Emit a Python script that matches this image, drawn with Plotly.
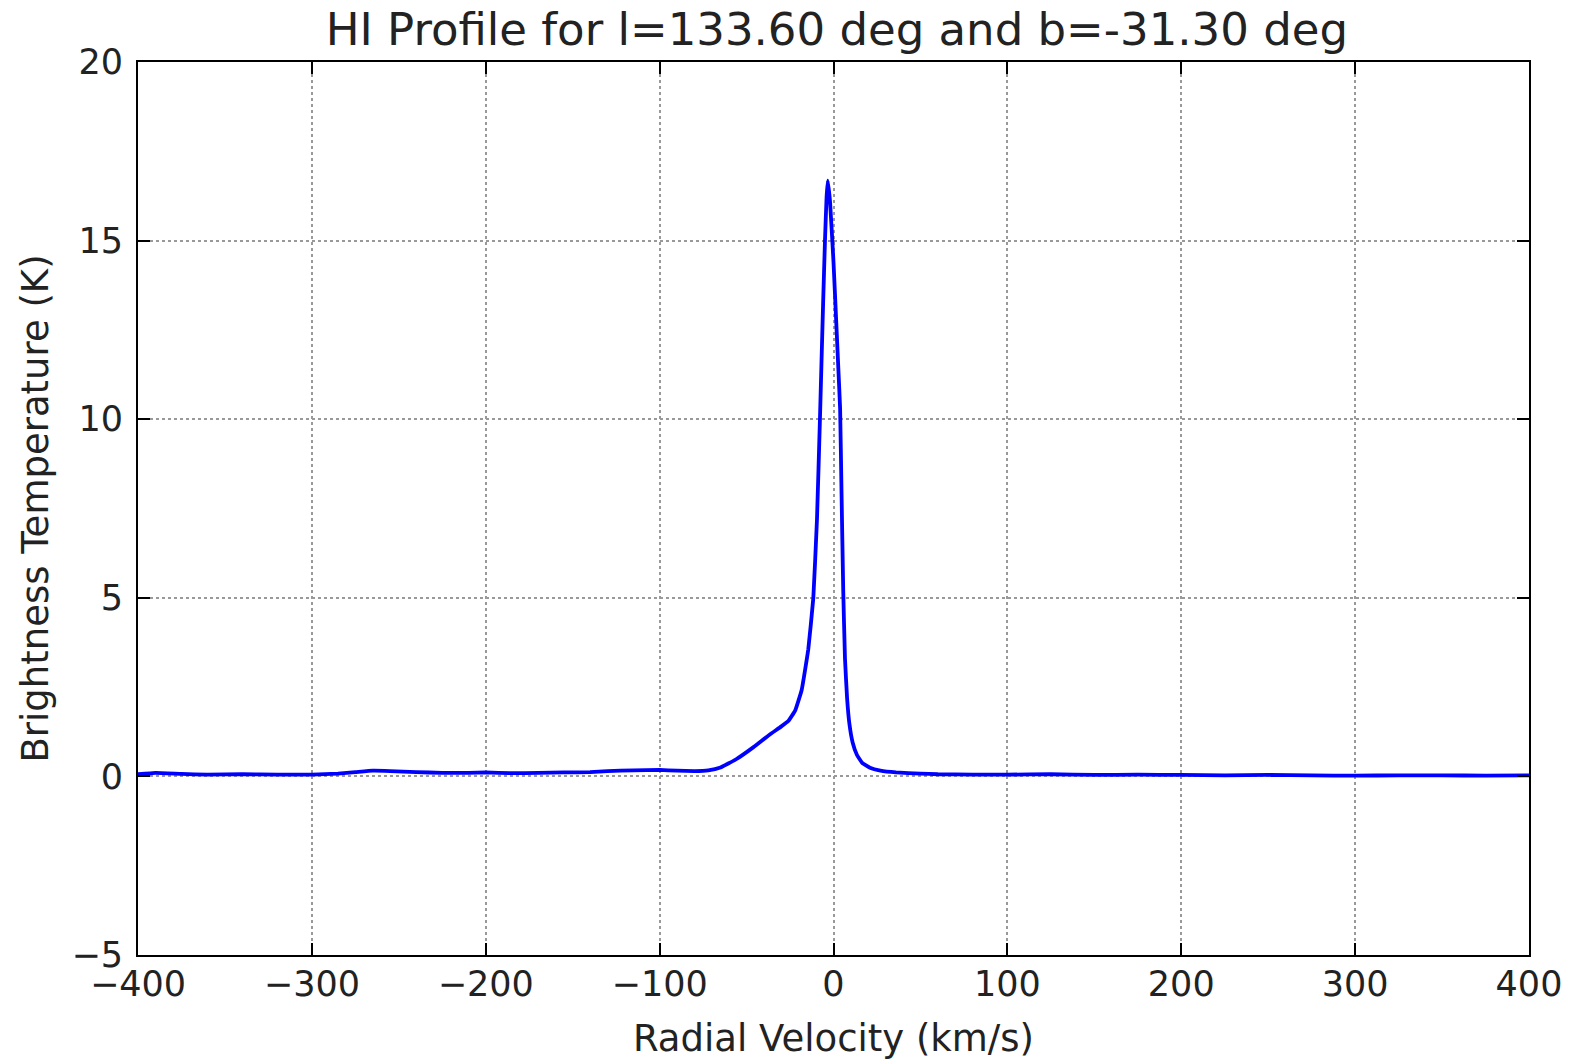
import plotly.graph_objects as go

# Radial velocity (km/s) and brightness temperature (K)
velocity = [-400, -390, -375, -360, -340, -320, -300, -285, -275, -265, -255, -240,
            -225, -210, -200, -185, -170, -155, -140, -130, -115, -100, -90, -80,
            -72, -65, -56, -46, -37, -30, -26, -22, -18.3, -14.5, -11.6, -9.5, -7.8,
            -6.0, -4.9, -4.0, -3.3, -2.0, 0.0, 1.5, 2.8, 3.8, 4.6, 5.6, 6.6, 7.8,
            9.2, 11.0, 13.5, 16.5, 21, 27, 36, 50, 60, 80, 100, 125, 150, 175, 200,
            225, 250, 275, 300, 325, 350, 375, 400]
temperature = [0.06, 0.10, 0.07, 0.05, 0.06, 0.05, 0.05, 0.08, 0.12, 0.16, 0.15, 0.12,
               0.10, 0.10, 0.11, 0.09, 0.10, 0.11, 0.12, 0.15, 0.17, 0.18, 0.16, 0.15,
               0.17, 0.25, 0.48, 0.82, 1.16, 1.40, 1.55, 1.85, 2.42, 3.56, 5.0, 7.2, 10.0,
               13.2, 15.0, 16.2, 16.68, 16.1, 14.4, 12.8, 11.4, 10.3, 8.0, 5.2, 3.3, 2.2,
               1.45, 0.95, 0.60, 0.38, 0.24, 0.16, 0.11, 0.08, 0.06, 0.05, 0.05, 0.06, 0.04,
               0.05, 0.04, 0.03, 0.04, 0.03, 0.02, 0.03, 0.03, 0.02, 0.03]

x_ticks = [-400, -300, -200, -100, 0, 100, 200, 300, 400]
y_ticks = [-5, 0, 5, 10, 15, 20]

FONT = "DejaVu Sans"
TXT = "#222222"
fig = go.Figure()
fig.add_trace(go.Scatter(x=velocity, y=temperature, mode="lines",
                         line=dict(color="#0000ff", width=3.8, shape="spline", smoothing=0.3),
                         showlegend=False))

axis_common = dict(
    showline=True, linecolor="black", linewidth=2, mirror="allticks",
    ticks="inside", ticklen=12, tickwidth=1.5, tickcolor="black",
    showgrid=True, gridcolor="#999999", griddash="dot", gridwidth=1.5,
    zeroline=False, automargin=False, tickfont=dict(family=FONT, size=35, color=TXT),
)
fig.update_xaxes(range=[-400, 400], tickvals=x_ticks, ticklabelstandoff=-3,
                 title=dict(text="Radial Velocity (km/s)", font=dict(family=FONT, size=37, color=TXT), standoff=22),
                 **axis_common)
fig.update_yaxes(range=[-5, 20], tickvals=y_ticks, ticklabelstandoff=6,
                 title=dict(text="Brightness Temperature (K)", font=dict(family=FONT, size=37, color=TXT), standoff=11),
                 **axis_common)
fig.update_layout(
    width=1570, height=1062,
    margin=dict(l=138, r=41, t=62, b=107),
    paper_bgcolor="white", plot_bgcolor="white",
    title=dict(text="HI Profile for l=133.60 deg and b=-31.30 deg",
               font=dict(family=FONT, size=45, color=TXT),
               x=0.533, xanchor="center", y=0.972, yanchor="middle"),
)
fig.write_html("out.html", config={"displayModeBar": False},
               post_script="document.body.style.margin='0';document.body.style.overflow='hidden';")
